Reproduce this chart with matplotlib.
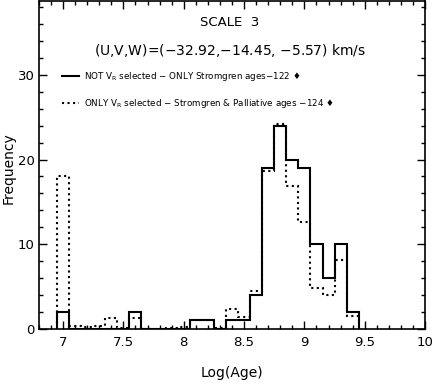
import numpy as np
import matplotlib
matplotlib.use("Agg")
import matplotlib.pyplot as plt

# centres des classes log(age), largeur 0.1
centers = [7.0, 7.1, 7.2, 7.3, 7.4, 7.5, 7.6, 7.7, 7.8, 7.9, 8.0, 8.1, 8.2,
           8.3, 8.4, 8.5, 8.6, 8.7, 8.8, 8.9, 9.0, 9.1, 9.2, 9.3, 9.4]
# NOT V_R selected - ONLY Stromgren ages (122)
freq_solid = [2, 0, 0, 0, 0, 0, 2, 0, 0, 0, 0, 1, 1,
              0, 1, 1, 4, 19, 24, 20, 19, 10, 6, 10, 2]
# ONLY V_R selected - Stromgren & Palliative ages (124)
freq_dotted = [18, 0.4, 0.2, 0.4, 1.25, 0.1, 1.3, 0, 0, 0.1, 0.2, 1, 1,
               0.15, 2.3, 1.45, 4.5, 18.6, 24.2, 16.9, 12.6, 4.8, 4.0, 8.1, 1.5]

label_solid = "NOT V$_R$ selected $-$ ONLY Stromgren ages$-$122 \u2666"
label_dotted = "ONLY V$_R$ selected $-$ Stromgren & Palliative ages $-$124 \u2666"

plt.rcParams['font.family'] = ['DejaVu Sans']
plt.rcParams['mathtext.default'] = 'regular'

c = np.array(centers)
edges = np.append(c - 0.05, c[-1] + 0.05)

fig = plt.figure(figsize=(4.32, 3.87), dpi=100)
ax = fig.add_axes([0.090, 0.150, 0.894, 0.847])

ax.stairs(freq_solid, edges, color="black", lw=1.5, label=label_solid)
ax.stairs(freq_dotted, edges, color="black", lw=1.5, ls=":", label=label_dotted)

ax.set_xlim(6.8, 10)
ax.set_ylim(0, 38.7)
ax.set_xticks([7, 7.5, 8, 8.5, 9, 9.5, 10])
ax.set_xticklabels(["7", "7.5", "8", "8.5", "9", "9.5", "10"])
ax.set_xticks(np.arange(6.8, 10.01, 0.1), minor=True)
ax.set_yticks([0, 10, 20, 30])
ax.set_yticks(np.arange(0, 39, 2), minor=True)
ax.tick_params(which="both", direction="in", top=True, right=True,
               width=1, labelsize=9.5)
ax.tick_params(which="major", length=6, pad=5)
ax.tick_params(axis="y", which="major", pad=3)
ax.tick_params(which="minor", length=3)
for s in ax.spines.values():
    s.set_linewidth(1.2)

ax.set_xlabel("Log(Age)", fontsize=10, labelpad=12)
ax.set_ylabel("Frequency", fontsize=10, va="center")
ax.yaxis.set_label_coords(-0.079, 0.49)

ax.text(0.495, 0.936, "SCALE  3", transform=ax.transAxes, ha="center",
        va="center", fontsize=9.5)
ax.text(0.495, 0.851, "(U,V,W)=($-$32.92,$-$14.45, $-$5.57) km/s",
        transform=ax.transAxes, ha="center", va="center", fontsize=10)

ax.legend(loc="upper left", bbox_to_anchor=(0.05, 0.80), frameon=False,
          fontsize=6.3, handlelength=2.0, handletextpad=0.5, labelspacing=1.6,
          borderaxespad=0)

fig.savefig("out.png", dpi=100)
